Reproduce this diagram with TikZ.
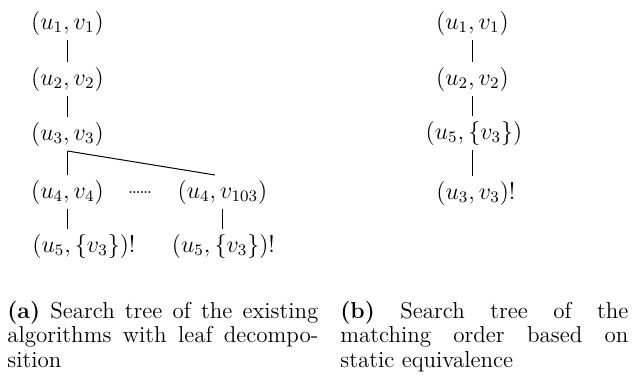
\documentclass[tikz,border=0pt]{standalone}
\begin{document}
\begin{tikzpicture}[x=0.5pt,y=-0.5pt,
  tn/.style={inner xsep=0pt,inner ysep=2.3pt,font=\fontsize{11.5}{13}\selectfont},
  edge/.style={line width=0.5pt},
  capt/.style={anchor=base west,inner sep=0pt,font=\fontsize{11.5}{12.25}\selectfont}]
\useasboundingbox (0,0) rectangle (632,375);
% tree (a)
\node[tn] (a1) at (67.5,23) {$(u_1,v_1)$};
\node[tn] (a2) at (67.5,79) {$(u_2,v_2)$};
\node[tn] (a3) at (67.5,134) {$(u_3,v_3)$};
\node[tn] (a4) at (67.5,192) {$(u_4,v_4)$};
\node[tn,anchor=west] (a5) at (32,246) {$(u_5,\{v_3\})!$};
\node[inner sep=0pt,font=\fontsize{9}{11}\selectfont] (dots) at (140,193) {.\kern-0.7pt.\kern-0.7pt.\kern-0.7pt.\kern-0.7pt.\kern-0.7pt.};
\node[tn] (a4r) at (222.5,192) {$(u_4,v_{103})$};
\node[tn] (a5r) at (223.5,246) {$(u_5,\{v_3\})!$};
\coordinate (br) at (215,175);
\draw[edge] (a1.south) -- (a2.north);
\draw[edge] (a2.south) -- (a3.north);
\draw[edge] (a3.south) -- (a4.north);
\draw[edge] (a3.south) -- (br);
\draw[edge] (a4.south) -- (a4.south |- a5.north);
\draw[edge] (a4r.south) -- (a4r.south |- a5r.north);
% tree (b)
\node[tn] (b1) at (472.5,23) {$(u_1,v_1)$};
\node[tn] (b2) at (472.5,79) {$(u_2,v_2)$};
\node[tn] (b3) at (474,133) {$(u_5,\{v_3\})$};
\node[tn,anchor=west] (b4) at (436,193) {$(u_3,v_3)!$};
\draw[edge] (b1.south) -- (b2.north);
\draw[edge] (b2.south) -- (b2.south |- b3.north);
\draw[edge] (b3.south -| b2.south) -- (b2.south |- b4.north);
% captions
\node[capt] (ca) at (7,318) {\parbox[t]{155.5pt}{\textbf{(a)} Search tree of the existing\linebreak algorithms with leaf decompo-\linebreak sition}};
\node[capt] (cb) at (340,318) {\parbox[t]{144pt}{\textbf{(b)} Search tree of the\linebreak matching order based on\linebreak static equivalence}};
\end{tikzpicture}
\end{document}
